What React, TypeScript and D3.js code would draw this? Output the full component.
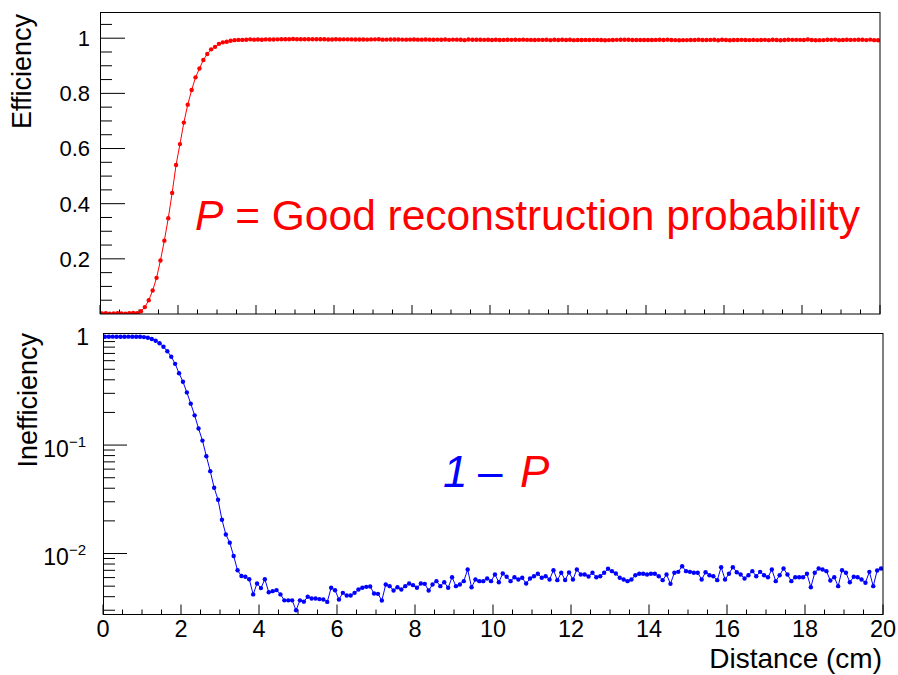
import React from "react";
import * as d3 from "d3";

// ---- Data: 200 bins of 0.1 cm from 0 to 20 cm ----
const BIN_START = 0;
const BIN_WIDTH = 0.1;

// P : good reconstruction probability (top panel)
const efficiency: number[] = [
  0.002, 0.003, 0.001, 0.002, 0.003, 0.002, 0.001, 0.003, 0.004, 0.003,
  0.010, 0.025, 0.050, 0.085, 0.131, 0.194, 0.266, 0.347, 0.439, 0.540,
  0.616, 0.694, 0.759, 0.812, 0.858, 0.890, 0.921, 0.9425, 0.9596, 0.9687,
  0.9795, 0.9850, 0.9874, 0.9905, 0.9930, 0.9938, 0.9939, 0.9942, 0.9958, 0.9947,
  0.9952, 0.9942, 0.9956, 0.9955, 0.9954, 0.9958, 0.9963, 0.9963, 0.9963, 0.9970,
  0.9963, 0.9964, 0.9960, 0.9962, 0.9962, 0.9962, 0.9962, 0.9964, 0.9952, 0.9954,
  0.9962, 0.9957, 0.9959, 0.9959, 0.9957, 0.9953, 0.9952, 0.9951, 0.9950, 0.9957,
  0.9958, 0.9963, 0.9948, 0.9950, 0.9954, 0.9951, 0.9953, 0.9950, 0.9947, 0.9949,
  0.9952, 0.9947, 0.9948, 0.9954, 0.9948, 0.9944, 0.9950, 0.9946, 0.9952, 0.9940,
  0.9950, 0.9948, 0.9944, 0.9929, 0.9951, 0.9942, 0.9944, 0.9944, 0.9941, 0.9944,
  0.9936, 0.9946, 0.9935, 0.9939, 0.9944, 0.9940, 0.9942, 0.9940, 0.9947, 0.9941,
  0.9938, 0.9935, 0.9940, 0.9938, 0.9942, 0.9930, 0.9943, 0.9934, 0.9943, 0.9933,
  0.9942, 0.9929, 0.9936, 0.9936, 0.9939, 0.9934, 0.9940, 0.9938, 0.9934, 0.9928,
  0.9931, 0.9935, 0.9940, 0.9942, 0.9944, 0.9942, 0.9937, 0.9935, 0.9935, 0.9936,
  0.9935, 0.9935, 0.9938, 0.9943, 0.9936, 0.9948, 0.9934, 0.9932, 0.9924, 0.9931,
  0.9932, 0.9934, 0.9934, 0.9942, 0.9933, 0.9937, 0.9938, 0.9943, 0.9925, 0.9942,
  0.9935, 0.9925, 0.9933, 0.9936, 0.9941, 0.9937, 0.9931, 0.9938, 0.9932, 0.9937,
  0.9940, 0.9929, 0.9944, 0.9937, 0.9927, 0.9936, 0.9944, 0.9940, 0.9940, 0.9940,
  0.9935, 0.9951, 0.9934, 0.9927, 0.9929, 0.9931, 0.9944, 0.9940, 0.9950, 0.9930,
  0.9934, 0.9946, 0.9939, 0.9940, 0.9942, 0.9946, 0.9932, 0.9950, 0.9930, 0.9927,
];

// 1 - P : inefficiency (bottom panel, log scale)
const inefficiency: number[] = [
  0.998, 0.997, 0.999, 0.998, 0.997, 0.998, 0.999, 0.997, 0.996, 0.997,
  0.99, 0.975, 0.95, 0.915, 0.869, 0.806, 0.734, 0.653, 0.561, 0.46,
  0.384, 0.306, 0.241, 0.188, 0.142, 0.110, 0.079, 0.0575, 0.0404, 0.0313,
  0.0205, 0.0150, 0.0126, 0.0095, 0.0070, 0.0062, 0.0061, 0.0058, 0.0042, 0.0053,
  0.0048, 0.0058, 0.0044, 0.0045, 0.0046, 0.0042, 0.0037, 0.0037, 0.0037, 0.0030,
  0.0037, 0.0036, 0.0040, 0.00385, 0.00385, 0.0038, 0.00377, 0.00358, 0.00483, 0.00459,
  0.00377, 0.00434, 0.0041, 0.0041, 0.00434, 0.00466, 0.00483, 0.00493, 0.00496, 0.00428,
  0.00425, 0.00369, 0.00518, 0.005, 0.00456, 0.00489, 0.00466, 0.005, 0.00529, 0.00511,
  0.00483, 0.00529, 0.00525, 0.00456, 0.00518, 0.00556, 0.005, 0.00544, 0.00483, 0.00605,
  0.005, 0.00518, 0.00556, 0.00712, 0.00489, 0.00576, 0.00556, 0.00556, 0.00588, 0.00556,
  0.0064, 0.00544, 0.00654, 0.0061, 0.00556, 0.00605, 0.00576, 0.00597, 0.00529, 0.00588,
  0.00618, 0.0065, 0.00597, 0.00618, 0.00576, 0.00702, 0.00568, 0.00664, 0.0057, 0.00669,
  0.00576, 0.00712, 0.0064, 0.0064, 0.00614, 0.00664, 0.00605, 0.00618, 0.00664, 0.00723,
  0.00688, 0.00654, 0.00597, 0.00576, 0.00556, 0.00576, 0.00631, 0.0065, 0.0065, 0.0064,
  0.0065, 0.0065, 0.00618, 0.00568, 0.0064, 0.00525, 0.00664, 0.00678, 0.00764, 0.00688,
  0.00678, 0.00664, 0.00664, 0.00576, 0.00673, 0.00631, 0.00618, 0.00568, 0.00748, 0.00576,
  0.0065, 0.00748, 0.00673, 0.0064, 0.00588, 0.00631, 0.00688, 0.00618, 0.00678, 0.00631,
  0.00605, 0.00712, 0.00556, 0.00631, 0.00728, 0.0064, 0.00556, 0.00605, 0.00605, 0.00605,
  0.0065, 0.00489, 0.00664, 0.00728, 0.00712, 0.00688, 0.00564, 0.00605, 0.005, 0.00702,
  0.00664, 0.00544, 0.0061, 0.00605, 0.00576, 0.00537, 0.00678, 0.005, 0.00698, 0.00728,
];

const xTickLabels = ["0", "2", "4", "6", "8", "10", "12", "14", "16", "18", "20"];
const topYTickLabels = ["0.2", "0.4", "0.6", "0.8", "1"];
const logDecades = [0, -1, -2];

const xTitle = "Distance (cm)";
const topYTitle = "Efficiency";
const bottomYTitle = "Inefficiency";

const FONT = "'Liberation Sans', Arial, Helvetica, sans-serif";
const RED = "#ff0000";
const BLUE = "#0000ff";

const binCenter = (i: number) => BIN_START + BIN_WIDTH * (i + 0.5);

export default function App() {
  // Top pad frame
  const tx = d3.scaleLinear().domain([0, 20]).range([100, 880]);
  const ty = d3.scaleLinear().domain([0, 1.095]).range([314, 12]);
  // Bottom pad frame
  const bx = d3.scaleLinear().domain([0, 20]).range([103, 883]);
  const by = d3.scaleLog().domain([0.00274, 1.08]).range([614.5, 333]);

  const topPts = efficiency.map((v, i) => [binCenter(i), v] as [number, number]);
  const botPts = inefficiency.map((v, i) => [binCenter(i), v] as [number, number]);

  const topLine = d3.line<[number, number]>().x((d) => tx(d[0])).y((d) => ty(d[1]))(topPts) || "";
  const botLine = d3.line<[number, number]>().x((d) => bx(d[0])).y((d) => by(d[1]))(botPts) || "";

  const xMajor = d3.range(0, 21, 2);
  const xMinor = d3.range(0, 20.01, 0.5).filter((v) => Math.abs(v % 2) > 1e-6);

  const topYMajor = topYTickLabels.map((s) => +s);
  const topYMinor = d3.range(0.05, 1.07, 0.05).filter((v) => Math.abs((v * 5) - Math.round(v * 5)) > 1e-6);

  const [by0, by1] = by.domain();
  const logMinor: number[] = [];
  for (const d of [-3, -2, -1]) {
    for (let k = 2; k <= 9; k++) {
      const v = k * Math.pow(10, d);
      if (v >= by0 && v <= by1) logMinor.push(v);
    }
  }

  const tickStroke = "#000";

  return (
    <svg
      width={898}
      height={675}
      style={{ position: "absolute", left: 0, top: 0, background: "#fff" }}
      fontFamily={FONT}
    >
      <defs>
        <clipPath id="clipTop">
          <rect x={100} y={12} width={780} height={302} />
        </clipPath>
        <clipPath id="clipBot">
          <rect x={103} y={333} width={780} height={281.5} />
        </clipPath>
      </defs>
      <rect x={0} y={0} width={898} height={675} fill="#fff" />

      {/* ===== Top panel ===== */}
      <g>
        {topYMajor.map((v) => (
          <line key={"tyM" + v} x1={100} x2={125} y1={ty(v)} y2={ty(v)} stroke={tickStroke} strokeWidth={1} />
        ))}
        {topYMinor.map((v) => (
          <line key={"tym" + v} x1={100} x2={112} y1={ty(v)} y2={ty(v)} stroke={tickStroke} strokeWidth={1} />
        ))}
        {topYTickLabels.map((s) => (
          <text key={"tyl" + s} x={90} y={ty(+s)} dy="0.36em" textAnchor="end" fontSize={22} fill="#000">
            {s}
          </text>
        ))}
        {xMajor.map((v) => (
          <line key={"txM" + v} x1={tx(v)} x2={tx(v)} y1={314} y2={305} stroke={tickStroke} strokeWidth={1} />
        ))}
        {xMinor.map((v) => (
          <line key={"txm" + v} x1={tx(v)} x2={tx(v)} y1={314} y2={309.5} stroke={tickStroke} strokeWidth={1} />
        ))}
        <g clipPath="url(#clipTop)">
          <path d={topLine} fill="none" stroke={RED} strokeWidth={1} />
          {topPts.map((d, i) => (
            <circle key={"tp" + i} cx={tx(d[0])} cy={ty(d[1])} r={2.2} fill={RED} />
          ))}
        </g>
        <rect x={100.5} y={12.5} width={779.5} height={301.5} fill="none" stroke="#000" strokeWidth={1} />
        <text transform={`translate(31,14) rotate(-90)`} textAnchor="end" fontSize={27} fill="#000">
          {topYTitle}
        </text>
        <text x={195} y={230} fontSize={42.5} fill={RED}>
          <tspan fontStyle="italic">P</tspan>
          <tspan> = Good reconstruction probability</tspan>
        </text>
      </g>

      {/* ===== Bottom panel ===== */}
      <g>
        {logDecades.map((d) => (
          <line key={"byM" + d} x1={103} x2={127} y1={by(Math.pow(10, d))} y2={by(Math.pow(10, d))} stroke={tickStroke} strokeWidth={1} />
        ))}
        {logMinor.map((v) => (
          <line key={"bym" + v} x1={103} x2={115} y1={by(v)} y2={by(v)} stroke={tickStroke} strokeWidth={1} />
        ))}
        {logDecades.map((d) =>
          d === 0 ? (
            <text key={"byl" + d} x={89} y={by(1)} dy="0.36em" textAnchor="end" fontSize={23} fill="#000">
              1
            </text>
          ) : (
            <text key={"byl" + d} x={86} y={by(Math.pow(10, d)) + 11.5} textAnchor="end" fontSize={23} fill="#000">
              10
              <tspan dy={-10} fontSize={15}>{"\u2212" + Math.abs(d)}</tspan>
            </text>
          )
        )}
        {xMajor.map((v) => (
          <line key={"bxM" + v} x1={bx(v)} x2={bx(v)} y1={614.5} y2={604.5} stroke={tickStroke} strokeWidth={1} />
        ))}
        {xMinor.map((v) => (
          <line key={"bxm" + v} x1={bx(v)} x2={bx(v)} y1={614.5} y2={609.5} stroke={tickStroke} strokeWidth={1} />
        ))}
        {xTickLabels.map((s) => (
          <text key={"bxl" + s} x={bx(+s)} y={637} textAnchor="middle" fontSize={23.5} fill="#000">
            {s}
          </text>
        ))}
        <g clipPath="url(#clipBot)">
          <path d={botLine} fill="none" stroke={BLUE} strokeWidth={1} />
          {botPts.map((d, i) => (
            <circle key={"bp" + i} cx={bx(d[0])} cy={by(d[1])} r={2.2} fill={BLUE} />
          ))}
        </g>
        <rect x={103.5} y={333.5} width={779.5} height={281} fill="none" stroke="#000" strokeWidth={1} />
        <text transform={`translate(37,333) rotate(-90)`} textAnchor="end" fontSize={27} fill="#000">
          {bottomYTitle}
        </text>
        <text x={882} y={668} textAnchor="end" fontSize={28} fill="#000">
          {xTitle}
        </text>
        <text x={443} y={487} fontSize={44} fontStyle="italic" fill={BLUE}>1</text>
        <text x={478} y={487} fontSize={44} fill={BLUE}>{"\u2013"}</text>
        <text x={520} y={487} fontSize={44} fontStyle="italic" fill={RED}>P</text>
      </g>
    </svg>
  );
}
